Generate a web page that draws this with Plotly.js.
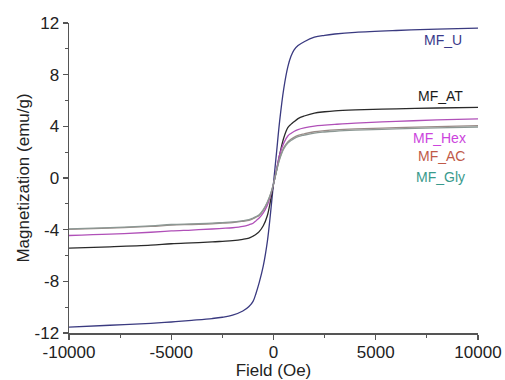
<!DOCTYPE html>
<html>
<head>
<meta charset="utf-8">
<script src="https://cdn.plot.ly/plotly-3.0.1.min.js"></script>
<style>html,body{margin:0;padding:0;background:#fff;}#chart{width:505px;height:380px;}</style>
</head>
<body>
<div id="chart"></div>
<script>
// Field values (Oe)
const field = [-10000,-8000,-6000,-5000,-4000,-3000,-2500,-2000,-1500,-1200,-1000,-850,-700,-500,-300,-150,0,150,300,500,700,850,1000,1200,1500,2000,2500,3000,4000,6000,8000,10000];
// Magnetization (emu/g) per sample
const mfU   = [-11.55,-11.4,-11.25,-11.15,-11.02,-10.88,-10.78,-10.62,-10.3,-9.95,-9.55,-8.9,-8.1,-6.8,-4.9,-2.8,-0.4,2.0,4.4,6.9,8.6,9.4,9.9,10.25,10.55,10.9,11.05,11.15,11.28,11.42,11.52,11.6];
const mfAT  = [-5.43,-5.33,-5.2,-5.09,-5.02,-4.95,-4.9,-4.85,-4.75,-4.65,-4.5,-4.35,-4.15,-3.7,-2.9,-1.8,-0.5,0.6,1.8,3.1,3.9,4.15,4.35,4.6,4.8,5.03,5.13,5.2,5.27,5.35,5.42,5.47];
const mfHex = [-4.45,-4.35,-4.2,-4.1,-4.03,-3.95,-3.9,-3.85,-3.75,-3.62,-3.5,-3.3,-3.1,-2.7,-2.1,-1.4,-0.45,0.7,1.8,2.7,3.25,3.45,3.6,3.75,3.88,4.02,4.09,4.15,4.25,4.38,4.5,4.58];
const mfAC  = [-3.98,-3.88,-3.75,-3.65,-3.6,-3.55,-3.5,-3.45,-3.35,-3.28,-3.15,-3.03,-2.9,-2.5,-1.9,-1.3,-0.45,0.6,1.5,2.35,2.8,3.0,3.15,3.3,3.42,3.58,3.66,3.72,3.8,3.9,3.98,4.06];
const mfGly = [-3.94,-3.84,-3.7,-3.6,-3.55,-3.5,-3.45,-3.4,-3.3,-3.23,-3.1,-2.98,-2.85,-2.45,-1.85,-1.25,-0.45,0.55,1.45,2.25,2.7,2.9,3.05,3.2,3.32,3.48,3.56,3.62,3.7,3.8,3.88,3.95];

const xTicks = [-10000,-5000,0,5000,10000];
const xTickText = ['-10000','-5000','0','5000','10000'];
const yTicks = [-12,-8,-4,0,4,8,12];
const yTickText = ['-12','-8','-4','0','4','8','12'];

const names = ['MF_U','MF_AT','MF_Hex','MF_AC','MF_Gly'];
const series = [mfU, mfAT, mfHex, mfAC, mfGly];
const lineColors = ['#3a3a80','#2a2a2a','#b050b8','#9a8c88','#8c9894'];
const labelColors = ['#3a3a8a','#1a1a1a','#cc44dd','#c05a48','#3a9a8c'];
// label anchor positions in data coords
const labelX = [8300, 8150, 8100, 8200, 8150];
const labelY = [10.7, 6.33, 3.11, 1.69, 0.06];

const traces = series.map((s, i) => ({
  x: field, y: s, type: 'scatter', mode: 'lines', name: names[i],
  line: {color: lineColors[i], width: 1.3, shape: 'spline', smoothing: 1},
  hoverinfo: 'skip'
}));

const annotations = names.map((n, i) => ({
  x: labelX[i], y: labelY[i], xref: 'x', yref: 'y', text: n, showarrow: false,
  font: {family: 'Liberation Sans, Arial, sans-serif', size: 14, color: labelColors[i]}
}));

const axisFont = {family: 'Liberation Sans, Arial, sans-serif', size: 17, color: '#222'};

const layout = {
  width: 505, height: 380,
  margin: {l: 69, r: 27, t: 23, b: 47, pad: 0},
  paper_bgcolor: '#fff', plot_bgcolor: '#fff',
  showlegend: false,
  font: axisFont,
  xaxis: {
    range: [-10000, 10000], tickvals: xTicks, ticktext: xTickText,
    ticks: 'outside', ticklen: 5, tickwidth: 1.2, tickcolor: '#555',
    showline: true, linecolor: '#555', linewidth: 1.5,
    showgrid: false, zeroline: false, automargin: false,
    tickfont: axisFont, ticklabelstandoff: -2,
    minor: {dtick: 2500, ticks: 'outside', ticklen: 3, tickwidth: 1, tickcolor: '#555', showgrid: false},
    title: {text: 'Field (Oe)', font: axisFont, standoff: 8}
  },
  yaxis: {
    range: [-12, 12], tickvals: yTicks, ticktext: yTickText,
    ticks: 'outside', ticklen: 5, tickwidth: 1.2, tickcolor: '#555',
    showline: true, linecolor: '#555', linewidth: 1.5,
    showgrid: false, zeroline: false, automargin: false,
    tickfont: axisFont,
    minor: {dtick: 2, ticks: 'outside', ticklen: 3, tickwidth: 1, tickcolor: '#555', showgrid: false},
    title: {text: 'Magnetization (emu/g)', font: axisFont, standoff: 0}
  },
  annotations: annotations
};

Plotly.newPlot('chart', traces, layout, {staticPlot: true, displayModeBar: false});
</script>
</body>
</html>
